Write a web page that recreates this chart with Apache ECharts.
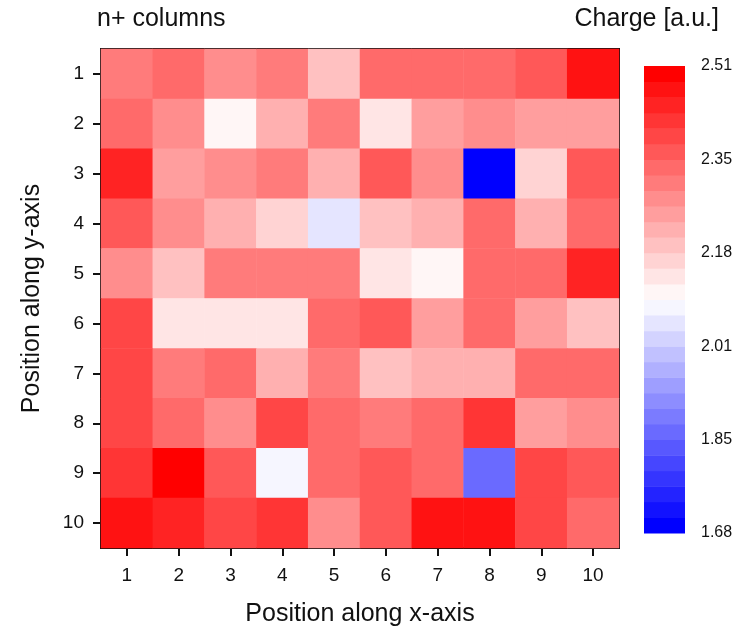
<!DOCTYPE html>
<html>
<head>
<meta charset="utf-8">
<script src="https://cdn.jsdelivr.net/npm/echarts@6/dist/echarts.min.js"></script>
<style>html,body{margin:0;padding:0;background:#fff}#c{width:737px;height:627px}</style>
</head>
<body>
<div id="c"></div>
<script>
// ---- data ----
const xCategories = ['1','2','3','4','5','6','7','8','9','10'];
const yCategories = ['1','2','3','4','5','6','7','8','9','10'];
// Charge values, rows = y position 1..10, columns = x position 1..10
const row1  = [2.305, 2.333, 2.277, 2.305, 2.194, 2.333, 2.333, 2.333, 2.360, 2.472];
const row2  = [2.333, 2.277, 2.111, 2.222, 2.305, 2.138, 2.249, 2.277, 2.249, 2.249];
const row3  = [2.444, 2.249, 2.277, 2.305, 2.222, 2.360, 2.277, 1.694, 2.166, 2.360];
const row4  = [2.360, 2.277, 2.222, 2.166, 2.055, 2.194, 2.222, 2.333, 2.222, 2.333];
const row5  = [2.277, 2.194, 2.305, 2.305, 2.305, 2.138, 2.111, 2.333, 2.333, 2.444];
const row6  = [2.388, 2.138, 2.138, 2.138, 2.333, 2.360, 2.249, 2.333, 2.249, 2.194];
const row7  = [2.388, 2.305, 2.333, 2.222, 2.305, 2.194, 2.222, 2.222, 2.333, 2.333];
const row8  = [2.388, 2.333, 2.277, 2.388, 2.333, 2.305, 2.333, 2.416, 2.249, 2.277];
const row9  = [2.416, 2.499, 2.360, 2.083, 2.333, 2.360, 2.333, 1.860, 2.388, 2.360];
const row10 = [2.472, 2.444, 2.388, 2.416, 2.277, 2.360, 2.472, 2.472, 2.388, 2.333];
const colorbarTicks = ['1.68','1.85','2.01','2.18','2.35','2.51'];
const cMin = 1.68, cMax = 2.513, nBands = 30;

// ---- build ----
const rows = [row1,row2,row3,row4,row5,row6,row7,row8,row9,row10];
const heatData = [];
rows.forEach((r, yi) => r.forEach((v, xi) => heatData.push([xi, yi, v])));

function bandColor(j) {
  const t = j / (nBands - 1);
  if (t <= 0.5) {
    const c = Math.round(255 * t * 2);
    return `rgb(${c},${c},255)`;
  } else {
    const c = Math.round(255 * (1 - (t - 0.5) * 2));
    return `rgb(255,${c},${c})`;
  }
}
const step = (cMax - cMin) / nBands;
const pieces = [];
for (let j = 0; j < nBands; j++) {
  pieces.push({ gte: cMin + j * step - (j === 0 ? 1 : 0), lt: cMin + (j + 1) * step + (j === nBands - 1 ? 1 : 0), color: bandColor(j) });
}
const bandData = [];
for (let j = 0; j < nBands; j++) bandData.push([0, j, j + 1]);

const FONT = 'Liberation Sans, Arial, Helvetica, sans-serif';
const chart = echarts.init(document.getElementById('c'), null, { renderer: 'canvas' });
chart.setOption({
  backgroundColor: '#fff',
  animation: false,
  textStyle: { fontFamily: FONT },
  title: [
    { text: 'n+ columns', left: 92, top: 2, textStyle: { fontFamily: FONT, fontSize: 25, fontWeight: 'normal', color: '#111' } },
    { text: 'Charge [a.u.]', right: 13, top: 2, textStyle: { fontFamily: FONT, fontSize: 25, fontWeight: 'normal', color: '#111' } }
  ],
  grid: [
    { left: 101, top: 49, width: 518, height: 499, containLabel: false, outerBoundsMode: 'none', show: true, borderColor: '#111', borderWidth: 2, backgroundColor: 'transparent' },
    { left: 644, top: 66, width: 41, height: 467, containLabel: false, outerBoundsMode: 'none' }
  ],
  xAxis: [
    {
      gridIndex: 0, type: 'category', data: xCategories,
      name: 'Position along x-axis', nameLocation: 'middle', nameGap: 54,
      nameTextStyle: { fontFamily: FONT, fontSize: 25, color: '#111' },
      axisLine: { show: true, lineStyle: { color: '#111', width: 2 } },
      axisTick: { show: true, alignWithLabel: true, length: 8, lineStyle: { color: '#111', width: 2 } },
      axisLabel: { fontFamily: FONT, fontSize: 19, color: '#111', margin: 18 },
      splitLine: { show: false }
    },
    {
      gridIndex: 1, type: 'category', data: ['cb'], show: false
    }
  ],
  yAxis: [
    {
      gridIndex: 0, type: 'category', data: yCategories, inverse: true,
      name: 'Position along y-axis', nameLocation: 'middle', nameGap: 56, nameRotate: 90,
      nameTextStyle: { fontFamily: FONT, fontSize: 25, color: '#111' },
      axisLine: { show: true, lineStyle: { color: '#111', width: 2 } },
      axisTick: { show: true, alignWithLabel: true, length: 8, lineStyle: { color: '#111', width: 2 } },
      axisLabel: { fontFamily: FONT, fontSize: 19, color: '#111', margin: 17 },
      splitLine: { show: false }
    },
    {
      gridIndex: 1, type: 'value', min: 0, max: nBands, interval: 6, position: 'right',
      axisLine: { show: false }, axisTick: { show: false }, splitLine: { show: false },
      axisLabel: { fontFamily: FONT, fontSize: 16, color: '#111', margin: 16,
        formatter: v => colorbarTicks[Math.round(v / 6)] }
    }
  ],
  visualMap: {
    type: 'piecewise', show: false, seriesIndex: 0, dimension: 2, pieces: pieces
  },
  series: [
    {
      type: 'heatmap', xAxisIndex: 0, yAxisIndex: 0, data: heatData,
      itemStyle: { borderWidth: 0 }, emphasis: { disabled: true }
    },
    {
      type: 'custom', xAxisIndex: 1, yAxisIndex: 1, data: bandData, silent: true,
      renderItem: function (params, api) {
        const p0 = api.coord([0, api.value(1)]);
        const p1 = api.coord([0, api.value(2)]);
        const w = api.size([1, 0])[0];
        return {
          type: 'rect',
          shape: { x: p0[0] - w / 2, y: p1[1], width: w, height: p0[1] - p1[1] + 0.5 },
          style: { fill: bandColor(api.value(1)) }
        };
      }
    }
  ]
});
</script>
</body>
</html>
